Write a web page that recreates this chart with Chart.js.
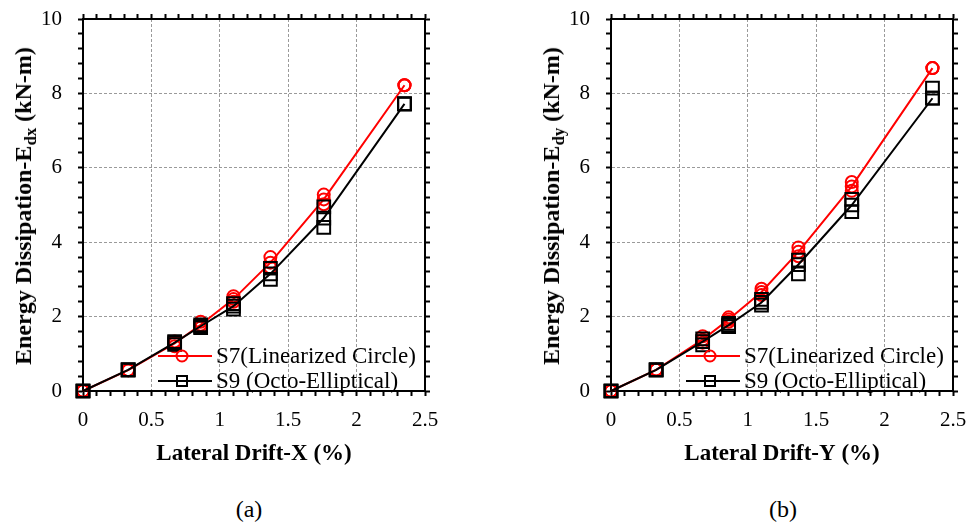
<!DOCTYPE html>
<html><head><meta charset="utf-8">
<script src="https://cdn.jsdelivr.net/npm/chart.js@4.4.0/dist/chart.umd.min.js"></script>
<style>
html,body{margin:0;padding:0;background:#fff;}
body{width:967px;height:526px;position:relative;overflow:hidden;font-family:'Liberation Serif',serif;color:#000;}
.wrap{position:absolute;top:0;}
.ytitle{position:absolute;white-space:nowrap;font-weight:bold;font-size:24px;line-height:1;transform:translate(-50%,-50%) rotate(-90deg);}
.ytitle sub{font-size:0.7em;vertical-align:-0.3em;line-height:0;}
.cap{position:absolute;font-size:24px;line-height:1;transform:translate(-50%,-50%);white-space:nowrap;}
</style></head>
<body>
<div class="wrap" style="left:0px;width:460px;height:480px"><canvas id="c1" width="460" height="480"></canvas></div>
<div class="wrap" style="left:528px;width:460px;height:480px"><canvas id="c2" width="460" height="480"></canvas></div>
<div class="ytitle" style="left:23px;top:206px">Energy Dissipation-E<sub>dx</sub> (kN-m)</div>
<div class="ytitle" style="left:551px;top:206px">Energy Dissipation-E<sub>dy</sub> (kN-m)</div>
<div class="cap" style="left:249px;top:509px">(a)</div>
<div class="cap" style="left:783px;top:509px">(b)</div>
<script>
// ---- data ----
const drift = [0, 0.33, 0.67, 0.86, 1.10, 1.37, 1.76, 2.35];
const xTickLabels = ['0', '0.5', '1', '1.5', '2', '2.5'];
const yTickLabels = ['0', '2', '4', '6', '8', '10'];
const legendLabels = ['S7(Linearized Circle)', 'S9 (Octo-Elliptical)'];
const xTitles = ['Lateral Drift-X (%)', 'Lateral Drift-Y (%)'];

// X direction (a)
const s7X_line = [0, 0.56, 1.28, 1.78, 2.47, 3.45, 5.15, 8.22];
const s7X_hi   = [0, 0.56, 1.33, 1.86, 2.55, 3.60, 5.28, 8.22];
const s7X_lo   = [0, 0.56, 1.20, 1.70, 2.40, 3.32, 5.02, 8.22];
const s9X_line = [0, 0.57, 1.30, 1.74, 2.28, 3.15, 4.65, 7.72];
const s9X_hi   = [0, 0.57, 1.33, 1.78, 2.35, 3.30, 4.95, 7.72];
const s9X_lo   = [0, 0.57, 1.25, 1.70, 2.20, 3.00, 4.40, 7.72];

// Y direction (b)
const s7Y_line = [0, 0.57, 1.38, 1.92, 2.66, 3.74, 5.50, 8.68];
const s7Y_hi   = [0, 0.57, 1.47, 1.98, 2.75, 3.86, 5.62, 8.68];
const s7Y_lo   = [0, 0.57, 1.30, 1.86, 2.58, 3.62, 5.38, 8.68];
const s9Y_line = [0, 0.57, 1.33, 1.77, 2.38, 3.40, 5.00, 7.87];
const s9Y_hi   = [0, 0.57, 1.40, 1.82, 2.46, 3.52, 5.15, 8.14];
const s9Y_lo   = [0, 0.57, 1.24, 1.73, 2.31, 3.15, 4.82, 7.87];

// ---- styling ----
const RED = '#ff0000', BLACK = '#000000', GRID = '#9a9a9a';
const FONT = "'Liberation Serif', serif";
Chart.defaults.font.family = FONT;
Chart.defaults.color = '#000';

const xMinor = []; for (let i = 0; i <= 25; i++) xMinor.push(Math.round(i) / 10);
const yMinor = []; for (let i = 0; i <= 25; i++) yMinor.push(Math.round(i * 4) / 10);
const labelFor = (v, labels) => { const l = labels.find(s => Math.abs(parseFloat(s) - v) < 1e-6); return l === undefined ? '' : l; };
const isMajor = (v, labels) => labels.some(s => Math.abs(parseFloat(s) - v) < 1e-6);

function pts(ys) { return drift.map((x, i) => ({x: x, y: ys[i]})); }
function ds(label, ys, color, style, radius, line, order) {
  return {label, data: pts(ys), showLine: line, borderColor: color, backgroundColor: color,
    borderWidth: 2, pointStyle: style, pointRadius: radius, pointHoverRadius: radius,
    pointBorderWidth: 2, pointBackgroundColor: 'rgba(0,0,0,0)', pointBorderColor: color,
    tension: 0, clip: false, order};
}

const legendPlugin = {
  id: 'inLegend',
  afterDatasetsDraw(chart) {
    const {ctx, chartArea} = chart;
    const right = chartArea.right, bottom = chartArea.bottom;
    const items = [{label: legendLabels[0], color: RED, style: 'circle'},
                   {label: legendLabels[1], color: BLACK, style: 'rect'}];
    items.forEach((it, i) => {
      const y = bottom - 35 + i * 25;
      ctx.save();
      ctx.strokeStyle = it.color; ctx.lineWidth = 2;
      ctx.beginPath(); ctx.moveTo(right - 267, y); ctx.lineTo(right - 213, y); ctx.stroke();
      const mx = right - 243;
      if (it.style === 'circle') { ctx.beginPath(); ctx.arc(mx, y, 5.5, 0, Math.PI * 2); ctx.stroke(); }
      else { ctx.strokeRect(mx - 5, y - 5, 10, 10); }
      ctx.fillStyle = '#000'; ctx.font = "23px " + FONT; ctx.textBaseline = 'middle'; ctx.textAlign = 'left';
      ctx.fillText(it.label, right - 209, y + 1);
      ctx.restore();
    });
  }
};

function makeChart(id, s7, s9, xTitle, padRight) {
  const tickGrid = {tickLength: 5, tickColor: '#000', tickWidth: 2};
  new Chart(document.getElementById(id), {
    type: 'scatter',
    data: {datasets: [
      ds(legendLabels[0], s7[0], RED, 'circle', 6, true, 5),
      ds(legendLabels[0] + ' b', s7[1], RED, 'circle', 6, false, 5),
      ds(legendLabels[0] + ' c', s7[2], RED, 'circle', 6, false, 5),
      ds(legendLabels[1], s9[0], BLACK, 'rect', 9, true, 1),
      ds(legendLabels[1] + ' b', s9[1], BLACK, 'rect', 9, false, 1),
      ds(legendLabels[1] + ' c', s9[2], BLACK, 'rect', 9, false, 1)
    ]},
    options: {
      responsive: false, animation: false, events: [],
      layout: {padding: {left: 0, right: padRight, top: 11, bottom: 0}},
      plugins: {legend: {display: false}, tooltip: {enabled: false}},
      scales: {
        x: {type: 'linear', position: 'bottom', min: 0, max: 2.5,
          afterBuildTicks: s => { s.ticks = xMinor.map(v => ({value: v})); },
          afterFit: s => { s.height = 89; s.paddingLeft = 0; s.paddingRight = 0; },
          ticks: {autoSkip: false, maxRotation: 0, minRotation: 0, padding: 12, font: {size: 21},
            callback: v => labelFor(v, xTickLabels)},
          grid: Object.assign({color: c => (c.tick && isMajor(c.tick.value, xTickLabels)) ? GRID : 'rgba(0,0,0,0)', lineWidth: 1}, tickGrid),
          border: {display: true, color: '#000', width: 2, dash: [3, 2]},
          title: {display: true, text: xTitle, font: {size: 23, weight: 'bold'}, padding: {top: 0, bottom: 12}}
        },
        x2: {type: 'linear', position: 'top', min: 0, max: 2.5,
          afterBuildTicks: s => { s.ticks = xMinor.map(v => ({value: v})); },
          afterFit: s => { s.height = 8; s.paddingLeft = 0; s.paddingRight = 0; },
          ticks: {display: false},
          grid: Object.assign({drawOnChartArea: false, color: 'rgba(0,0,0,0)'}, tickGrid),
          border: {display: true, color: '#000', width: 2}
        },
        y: {type: 'linear', position: 'left', min: 0, max: 10,
          afterBuildTicks: s => { s.ticks = yMinor.map(v => ({value: v})); },
          afterFit: s => { s.width = 83; s.paddingTop = 0; s.paddingBottom = 0; },
          ticks: {autoSkip: false, padding: 16, font: {size: 21},
            callback: v => labelFor(v, yTickLabels)},
          grid: Object.assign({color: c => (c.tick && isMajor(c.tick.value, yTickLabels)) ? GRID : 'rgba(0,0,0,0)', lineWidth: 1}, tickGrid),
          border: {display: true, color: '#000', width: 2, dash: [3, 2]}
        },
        y2: {type: 'linear', position: 'right', min: 0, max: 10,
          afterBuildTicks: s => { s.ticks = yMinor.map(v => ({value: v})); },
          afterFit: s => { s.width = 10; s.paddingTop = 0; s.paddingBottom = 0; },
          ticks: {display: false},
          grid: Object.assign({drawOnChartArea: false, color: 'rgba(0,0,0,0)'}, tickGrid),
          border: {display: true, color: '#000', width: 2}
        }
      }
    },
    plugins: [legendPlugin]
  });
}

makeChart('c1', [s7X_line, s7X_hi, s7X_lo], [s9X_line, s9X_hi, s9X_lo], xTitles[0], 25);
makeChart('c2', [s7Y_line, s7Y_hi, s7Y_lo], [s9Y_line, s9Y_hi, s9Y_lo], xTitles[1], 25);
</script>
</body></html>
